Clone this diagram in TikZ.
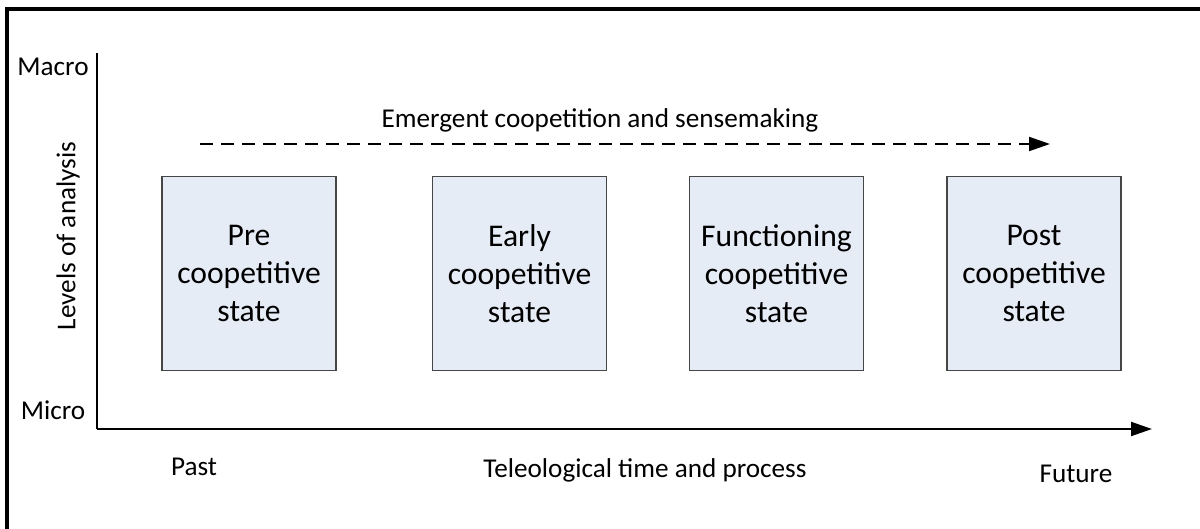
\documentclass[tikz,border=0pt]{standalone}
\usepackage{fontspec}
\setmainfont{Carlito}
\usetikzlibrary{arrows.meta,positioning}
\definecolor{statefill}{RGB}{230,236,246}
\definecolor{stateline}{RGB}{70,70,70}

\begin{document}
\begin{tikzpicture}[x=0.5pt, y=-0.5pt,
    every node/.style={
        font=\fontsize{13.6}{19.5}\selectfont,
        inner sep=0pt
    },
    state/.style={
        rectangle,
        draw=stateline,
        line width=0.7pt,
        fill=statefill,
        minimum width=87pt,
        minimum height=97pt,
        align=center,
        font=\fontsize{15.8}{19}\selectfont
    },
    axis/.style={line width=1pt, -{Triangle[length=10.5pt, width=7pt]}},
    flow/.style={line width=1pt, dash pattern=on 6.5pt off 4pt, -{Triangle[length=10.5pt, width=7pt]}}
]
    \useasboundingbox (0,0) rectangle (1200,529);
    \clip (0,0) rectangle (1200,529);
    \draw[line width=1.8pt] (7,9) rectangle (1215,545);

    % states
    \node (pre_state) [state, shift={(249, 273.5)}]
    {
        Pre\\coopetitive\\state
    };
    \node (early_state) [state, shift={(519.5, 273.5)}]
    {
        Early\\coopetitive\\state
    };
    \node (functioning_state) [state, shift={(776.5, 273.5)}]
    {
        Functioning\\coopetitive\\state
    };
    \node (post_state) [state, shift={(1034, 273.5)}]
    {
        Post\\coopetitive\\state
    };

    % labels
    \node (macro_label) [shift={(53, 67)}] {Macro};
    \node (micro_label) [shift={(53, 410)}] {Micro};
    \node (levels_label) [rotate=90] at (68, 236) {Levels of analysis};
    \node (past_label) [shift={(194, 467)}] {Past};
    \node (time_label) [shift={(645, 470)}] {Teleological time and process};
    \node (future_label) [shift={(1076, 474)}] {Future};
    \node (sense_label) [shift={(600, 120)}] {Emergent coopetition and sensemaking};

    \coordinate (origin) at (97, 429);
    \coordinate (y_top) at (97, 53);
    \coordinate (x_end) at (1152, 429);
    \coordinate (sense_start) at (200, 144);
    \coordinate (sense_end) at (1050, 144);

    \draw[line width=1pt] (origin) to (y_top);
    \draw[axis] (origin) to (x_end);
    \draw[flow] (sense_start) to (sense_end);
\end{tikzpicture}
\end{document}
